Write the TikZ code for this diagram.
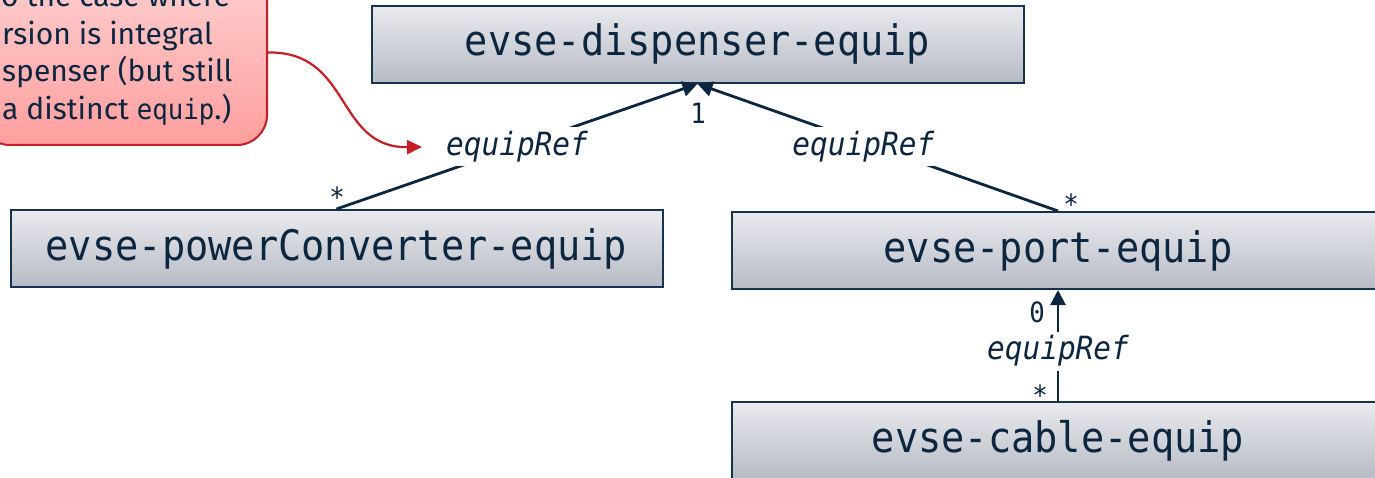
\documentclass[tikz,border=0pt]{standalone}
\usepackage{fontspec}
\usetikzlibrary{arrows.meta}
\newfontfamily\boxfont[FakeStretch=0.92]{DejaVu Sans Mono}
\newfontfamily\callfont{Fira Sans}
\definecolor{navy}{HTML}{0D2640}
\definecolor{boxline}{HTML}{17334D}
\definecolor{boxtop}{HTML}{E9EAEE}
\definecolor{boxbot}{HTML}{B7BBC5}
\definecolor{calltop}{HTML}{FFD3D3}
\definecolor{callbot}{HTML}{FF9E9E}
\definecolor{callred}{HTML}{C41E26}
\tikzset{
  umlbox/.style={draw=boxline, line width=2pt, top color=boxtop, bottom color=boxbot,
    minimum width=652pt, minimum height=77pt, inner sep=0pt, text=navy,
    font=\boxfont\fontsize{42}{48}\selectfont},
  assoc/.style={draw=navy, line width=2.8pt, -{Triangle[length=15pt,width=15pt]}},
  lbl/.style={fill=white, inner sep=4pt, text=navy, font=\boxfont\itshape\fontsize{32}{36}\selectfont},
  mult/.style={inner sep=0pt, text=navy, font=\boxfont\fontsize{28}{32}\selectfont},
  callbox/.style={draw=callred, line width=2pt, rounded corners=30pt, top color=calltop, bottom color=callbot,
    minimum width=287pt, minimum height=185pt, inner sep=0pt},
  calltext/.style={inner sep=0pt, anchor=base west, text=navy, font=\callfont\fontsize{30}{36}\selectfont},
  redarrow/.style={draw=callred, line width=2.2pt, -{Triangle[length=15pt,width=14pt]}}
}
\begin{document}
\begin{tikzpicture}[x=1pt, y=-1pt]
\clip (0,0) rectangle (1375,478);
\fill[white] (0,0) rectangle (1375,478);
% boxes
\node[umlbox] (disp) at (697.5,44.4) {evse-dispenser-equip};
\node[umlbox] (pc) at (336.5,248.5) {evse-powerConverter-equip};
\node[umlbox] (port) at (1058,250.5) {evse-port-equip};
\node[umlbox] (cable) at (1058,440.5) {evse-cable-equip};
% callout
\node[callbox] (callout) at (123.5,52.5) {};
\node[calltext] (cl1) at (1,6.7) {o the case where};
\node[calltext] (cl2) at (2,45) {rsion is integral};
\node[calltext] (cl3) at (2,82) {spenser (but still};
\node[calltext] (cl4) at (2,120) {a distinct {\boxfont\fontsize{28}{34}\selectfont equip}.)};
% associations
\draw[assoc] (pc.north) -- node[lbl, pos=0.5] (l1) {equipRef} (disp.south);
\draw[assoc] (port.north) -- node[lbl, pos=0.54, yshift=-4pt] (l2) {equipRef} (disp.south);
\draw[assoc] (cable.north) -- node[lbl, pos=0.45] (l3) {equipRef} (port.south);
% multiplicities
\node[mult] (m1) at (698,113) {1};
\node[mult] (m2) at (337,197) {*};
\node[mult] (m3) at (1071,204) {*};
\node[mult] (m4) at (1037,312) {0};
\node[mult] (m5) at (1040,395) {*};
% callout connector
\coordinate (ctip) at (422,147);
\draw[redarrow] (callout.east) .. controls (352,51) and (335,148) .. (ctip);
\end{tikzpicture}
\end{document}
